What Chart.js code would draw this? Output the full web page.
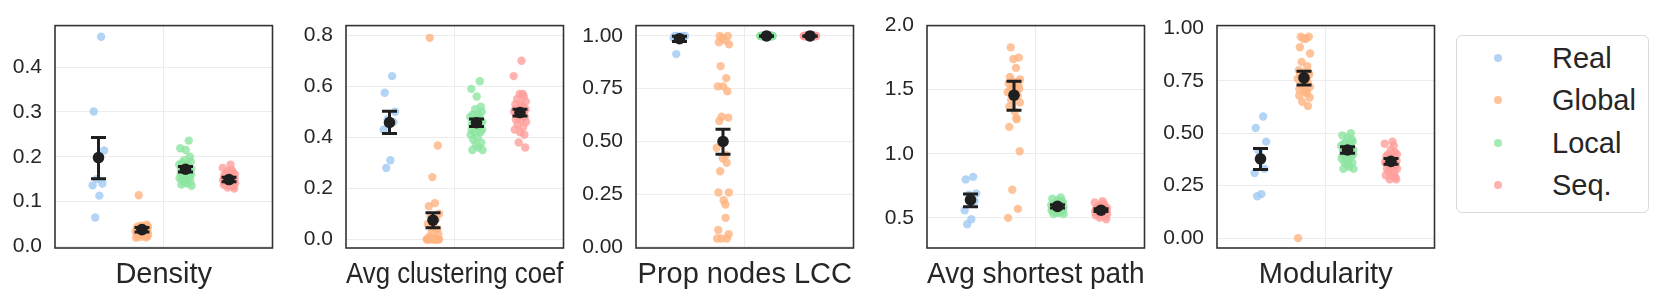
<!DOCTYPE html>
<html><head><meta charset="utf-8">
<script src="https://cdn.jsdelivr.net/npm/chart.js@4.4.1/dist/chart.umd.min.js"></script>
<style>
html,body{margin:0;padding:0;background:#fff;width:1661px;height:303px;overflow:hidden;position:relative;font-family:'Liberation Sans',Arial,sans-serif;}
canvas{position:absolute;top:0;}
#legend{position:absolute;left:1456px;top:35px;width:191px;height:176px;border:1px solid #d9d9d9;border-radius:6px;background:#fff;}
.item{position:absolute;left:95px;height:36px;line-height:36px;font-size:29px;color:#262626;white-space:nowrap;}
.dot{position:absolute;left:37px;width:8px;height:8px;border-radius:50%;}
</style></head><body>
<div id="legend"></div>
<script>
// ---------------- data ----------------
const groups = ['Real', 'Global', 'Local', 'Seq.'];
const metricTitles = ['Density', 'Avg clustering coef', 'Prop nodes LCC', 'Avg shortest path', 'Modularity'];

const densityReal   = [0.468, 0.301, 0.214, 0.150, 0.140, 0.136, 0.113, 0.064];
const densityGlobal = [0.114, 0.048, 0.046, 0.045, 0.044, 0.043, 0.042, 0.041, 0.040, 0.039, 0.038, 0.037, 0.036, 0.035, 0.034, 0.033, 0.032, 0.031, 0.030, 0.029, 0.028, 0.027, 0.026, 0.025, 0.024, 0.023, 0.022, 0.021, 0.020, 0.019];
const densityLocal  = [0.236, 0.219, 0.215, 0.200, 0.192, 0.189, 0.186, 0.184, 0.182, 0.180, 0.178, 0.176, 0.175, 0.173, 0.171, 0.169, 0.167, 0.165, 0.163, 0.160, 0.158, 0.155, 0.152, 0.150, 0.148, 0.145, 0.142, 0.140, 0.138, 0.135];
const densitySeq    = [0.182, 0.175, 0.170, 0.168, 0.165, 0.163, 0.161, 0.159, 0.157, 0.155, 0.153, 0.152, 0.151, 0.150, 0.149, 0.148, 0.147, 0.146, 0.145, 0.144, 0.143, 0.142, 0.141, 0.140, 0.139, 0.137, 0.135, 0.133, 0.131, 0.129];
const densityMean = [0.198, 0.037, 0.172, 0.149];
const densityLo   = [0.151, 0.032, 0.166, 0.144];
const densityHi   = [0.243, 0.042, 0.178, 0.154];
const densityTicks = [0.0, 0.1, 0.2, 0.3, 0.4];

const clusterReal   = [0.64, 0.575, 0.50, 0.47, 0.46, 0.43, 0.31, 0.28];
const clusterGlobal = [0.79, 0.368, 0.244, 0.142, 0.13, 0.10, 0.09, 0.08, 0.06, 0.05, 0.04, 0.03, 0.02, 0.01, 0.0, 0.0, 0.0, 0.0, 0.0, 0.0, 0.0, 0.0, 0.0, 0.0, 0.0, 0.0, 0.0, 0.0, 0.0, 0.0];
const clusterLocal  = [0.62, 0.59, 0.56, 0.52, 0.51, 0.50, 0.49, 0.49, 0.48, 0.48, 0.47, 0.47, 0.46, 0.46, 0.45, 0.45, 0.44, 0.44, 0.43, 0.43, 0.42, 0.42, 0.41, 0.40, 0.39, 0.38, 0.37, 0.36, 0.35, 0.35];
const clusterSeq    = [0.70, 0.64, 0.57, 0.57, 0.56, 0.55, 0.54, 0.53, 0.53, 0.52, 0.52, 0.51, 0.51, 0.50, 0.50, 0.50, 0.49, 0.49, 0.48, 0.48, 0.47, 0.47, 0.46, 0.45, 0.44, 0.43, 0.42, 0.41, 0.38, 0.36];
const clusterMean = [0.458, 0.075, 0.457, 0.497];
const clusterLo   = [0.415, 0.045, 0.442, 0.484];
const clusterHi   = [0.502, 0.104, 0.472, 0.510];
const clusterTicks = [0.0, 0.2, 0.4, 0.6, 0.8];

const lccReal   = [1.0, 1.0, 1.0, 1.0, 0.995, 0.99, 0.985, 0.914];
const lccGlobal = [1.0, 1.0, 0.99, 0.98, 0.97, 0.96, 0.857, 0.80, 0.761, 0.761, 0.738, 0.617, 0.613, 0.597, 0.50, 0.47, 0.436, 0.42, 0.399, 0.359, 0.258, 0.258, 0.221, 0.201, 0.138, 0.08, 0.06, 0.04, 0.04, 0.04];
const lccLocal  = [1.0, 1.0, 1.0, 1.0, 1.0, 1.0, 1.0, 1.0, 1.0, 1.0, 1.0, 1.0, 1.0, 1.0, 1.0, 1.0, 1.0, 1.0, 1.0, 1.0, 1.0, 1.0, 1.0, 1.0, 1.0, 1.0, 1.0, 1.0, 1.0, 1.0];
const lccSeq    = [1.0, 1.0, 1.0, 1.0, 1.0, 1.0, 1.0, 1.0, 1.0, 1.0, 1.0, 1.0, 1.0, 1.0, 1.0, 1.0, 1.0, 1.0, 1.0, 1.0, 1.0, 1.0, 1.0, 1.0, 1.0, 1.0, 1.0, 1.0, 1.0, 1.0];
const lccMean = [0.987, 0.50, 1.0, 1.0];
const lccLo   = [0.974, 0.439, 0.999, 0.999];
const lccHi   = [0.999, 0.558, 1.0, 1.0];
const lccTicks = [0.0, 0.25, 0.5, 0.75, 1.0];

const aspReal   = [0.82, 0.80, 0.69, 0.68, 0.63, 0.56, 0.49, 0.45];
const aspGlobal = [1.83, 1.75, 1.74, 1.67, 1.60, 1.58, 1.57, 1.56, 1.55, 1.54, 1.53, 1.52, 1.51, 1.50, 1.49, 1.48, 1.47, 1.46, 1.45, 1.42, 1.40, 1.37, 1.33, 1.28, 1.27, 1.21, 1.02, 0.72, 0.57, 0.50];
const aspLocal  = [0.66, 0.65, 0.64, 0.63, 0.62, 0.62, 0.61, 0.61, 0.60, 0.60, 0.60, 0.59, 0.59, 0.59, 0.59, 0.58, 0.58, 0.58, 0.58, 0.57, 0.57, 0.57, 0.56, 0.56, 0.55, 0.55, 0.54, 0.54, 0.53, 0.53];
const aspSeq    = [0.63, 0.62, 0.61, 0.60, 0.59, 0.59, 0.58, 0.58, 0.57, 0.57, 0.57, 0.56, 0.56, 0.56, 0.56, 0.55, 0.55, 0.55, 0.55, 0.54, 0.54, 0.54, 0.53, 0.53, 0.53, 0.52, 0.52, 0.51, 0.50, 0.49];
const aspMean = [0.64, 1.457, 0.59, 0.56];
const aspLo   = [0.587, 1.339, 0.577, 0.549];
const aspHi   = [0.687, 1.566, 0.603, 0.571];
const aspTicks = [0.5, 1.0, 1.5, 2.0];

const modReal   = [0.58, 0.525, 0.46, 0.415, 0.33, 0.31, 0.21, 0.20];
const modGlobal = [0.96, 0.96, 0.95, 0.95, 0.91, 0.88, 0.84, 0.82, 0.80, 0.79, 0.79, 0.78, 0.78, 0.77, 0.77, 0.76, 0.76, 0.75, 0.74, 0.73, 0.72, 0.71, 0.70, 0.70, 0.69, 0.68, 0.67, 0.65, 0.63, 0.0];
const modLocal  = [0.50, 0.49, 0.48, 0.47, 0.46, 0.46, 0.45, 0.45, 0.44, 0.44, 0.43, 0.43, 0.43, 0.42, 0.42, 0.42, 0.41, 0.41, 0.40, 0.40, 0.39, 0.39, 0.38, 0.37, 0.36, 0.36, 0.35, 0.34, 0.33, 0.33];
const modSeq    = [0.46, 0.45, 0.44, 0.42, 0.41, 0.40, 0.40, 0.39, 0.39, 0.38, 0.38, 0.37, 0.37, 0.37, 0.36, 0.36, 0.36, 0.35, 0.35, 0.34, 0.34, 0.33, 0.33, 0.32, 0.31, 0.30, 0.30, 0.29, 0.28, 0.28];
const modMean = [0.378, 0.764, 0.42, 0.366];
const modLo   = [0.327, 0.730, 0.405, 0.352];
const modHi   = [0.427, 0.796, 0.435, 0.380];
const modTicks = [0.0, 0.25, 0.5, 0.75, 1.0];

// ---------------- styling / layout ----------------
const COLORS = ['rgba(161,201,244,0.8)', 'rgba(255,180,130,0.8)', 'rgba(141,229,161,0.8)', 'rgba(255,159,155,0.8)'];
const GROUP_X = [-0.3, -0.1, 0.1, 0.3];
const JITTER = [0.012, -0.022, 0.026, -0.008, 0.018, -0.027, 0.004, -0.015, 0.022, -0.003, 0.009, -0.019, 0.028, -0.011, 0.015, -0.024, 0.001, 0.020, -0.006, 0.024, -0.017, 0.007, -0.029, 0.013, -0.001, 0.017, -0.013, 0.027, -0.021, 0.003, 0.011];
const PLOT_LEFT = [55, 346, 636, 927, 1217];
const PLOT_W = 224;
const AXW = 64;
const DARK = '#262626';

Chart.defaults.font.family = "'Liberation Sans', Arial, sans-serif";
Chart.defaults.color = DARK;

const framePlugin = {
  id: 'frame',
  afterDraw(c) {
    const a = c.chartArea, ctx = c.ctx;
    ctx.save();
    ctx.strokeStyle = '#333333';
    ctx.lineWidth = 1.6;
    ctx.strokeRect(a.left, a.top, a.right - a.left, a.bottom - a.top);
    ctx.restore();
  }
};

function makeChart(idx, title, series, mean, lo, hi, yMin, yMax, ticks, decimals) {
  const cv = document.createElement('canvas');
  cv.width = AXW + PLOT_W + 4; cv.height = 303;
  cv.style.left = (PLOT_LEFT[idx] - AXW) + 'px';
  cv.style.width = cv.width + 'px'; cv.style.height = '303px';
  document.body.appendChild(cv);

  const datasets = [];
  datasets.push({
    type: 'scatter', data: mean.map((m, i) => ({x: GROUP_X[i], y: m})),
    pointRadius: 5.8, backgroundColor: '#1f1f1f', borderWidth: 0, order: 0
  });
  const eb = [];
  lo.forEach((l, i) => { eb.push({x: GROUP_X[i], y: l}, {x: GROUP_X[i], y: hi[i]}, {x: GROUP_X[i], y: null}); });
  datasets.push({
    type: 'line', data: eb, showLine: true, spanGaps: false, fill: false,
    borderColor: '#1f1f1f', borderWidth: 3,
    pointStyle: 'line', pointRadius: 7.5, pointBorderWidth: 3, pointBorderColor: '#1f1f1f',
    order: 1
  });
  series.forEach((vals, g) => {
    datasets.push({
      type: 'scatter',
      data: vals.map((v, k) => ({x: GROUP_X[g] + JITTER[(k + g * 7) % JITTER.length], y: v})),
      pointRadius: 4.2, backgroundColor: COLORS[g], borderWidth: 0, order: 2
    });
  });

  new Chart(cv, {
    type: 'scatter',
    data: {datasets},
    plugins: [framePlugin],
    options: {
      responsive: false, animation: false, events: [], devicePixelRatio: 1,
      layout: {padding: {top: 19, right: 4, bottom: 0, left: 0}},
      plugins: {legend: {display: false}, tooltip: {enabled: false}},
      scales: {
        x: {
          type: 'linear', min: -0.5, max: 0.5,
          afterBuildTicks: s => { s.ticks = [{value: 0}]; },
          ticks: {display: false},
          grid: {color: '#ececec', lineWidth: 1, drawTicks: false},
          border: {display: false},
          title: {display: true, text: title, font: {size: 29}, color: DARK, padding: {top: 0, bottom: 11}},
          afterFit: s => { s.height = 55; }
        },
        y: {
          type: 'linear', min: yMin, max: yMax,
          afterBuildTicks: s => { s.ticks = ticks.map(v => ({value: v})); },
          ticks: {font: {size: 21}, color: DARK, padding: 13, autoSkip: false, callback: v => Number(v).toFixed(decimals)},
          grid: {color: '#ececec', lineWidth: 1, drawTicks: false},
          border: {display: false},
          afterFit: s => { s.width = AXW; }
        }
      }
    }
  });
}

makeChart(0, metricTitles[0], [densityReal, densityGlobal, densityLocal, densitySeq], densityMean, densityLo, densityHi, -0.004, 0.493, densityTicks, 1);
makeChart(1, metricTitles[1], [clusterReal, clusterGlobal, clusterLocal, clusterSeq], clusterMean, clusterLo, clusterHi, -0.034, 0.838, clusterTicks, 1);
makeChart(2, metricTitles[2], [lccReal, lccGlobal, lccLocal, lccSeq], lccMean, lccLo, lccHi, -0.005, 1.049, lccTicks, 2);
makeChart(3, metricTitles[3], [aspReal, aspGlobal, aspLocal, aspSeq], aspMean, aspLo, aspHi, 0.265, 2.0, aspTicks, 1);
makeChart(4, metricTitles[4], [modReal, modGlobal, modLocal, modSeq], modMean, modLo, modHi, -0.047, 1.013, modTicks, 2);

// legend
const legend = document.getElementById('legend');
const rowCenters = [22, 64, 107, 149];
groups.forEach((g, i) => {
  const d = document.createElement('div');
  d.className = 'dot'; d.style.background = COLORS[i]; d.style.top = (rowCenters[i] - 4) + 'px';
  legend.appendChild(d);
  const t = document.createElement('div');
  t.className = 'item'; t.textContent = g; t.style.top = (rowCenters[i] - 18) + 'px';
  legend.appendChild(t);
});
</script>
</body></html>
